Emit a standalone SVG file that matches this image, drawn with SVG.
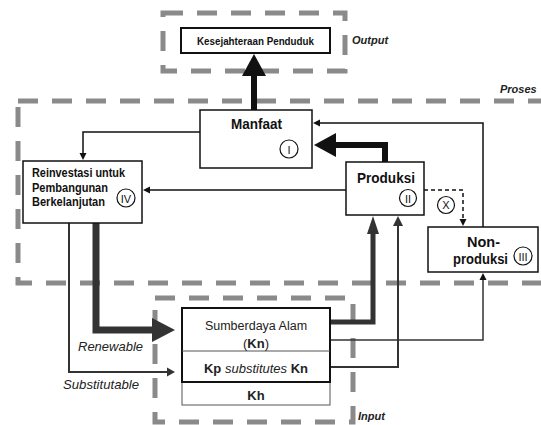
<svg xmlns="http://www.w3.org/2000/svg" width="541" height="425" viewBox="0 0 541 425">
<style>
.bg{fill:#fff}
.dash{fill:none;stroke:#8a8a8a;stroke-width:5;stroke-dasharray:20 14}
.box{fill:#fff;stroke:#111;stroke-width:1.5}
.lab{font-family:"Liberation Sans",Arial,sans-serif;font-weight:bold;fill:#111}
.reg{font-family:"Liberation Sans",Arial,sans-serif;fill:#222}
.it{font-family:"Liberation Sans",Arial,sans-serif;font-style:italic;fill:#222}
.circ{fill:#fff;stroke:#111;stroke-width:1.2}
.num{font-family:"Liberation Sans",Arial,sans-serif;font-size:11px;fill:#111;text-anchor:middle}
.thin{fill:none;stroke:#111;stroke-width:1.5}
</style>
<defs>
<marker id="aBig" markerUnits="userSpaceOnUse" markerWidth="24" markerHeight="26" viewBox="0 -13 24 26" refX="1" refY="0" orient="auto"><path d="M0,-12 L22,0 L0,12 z" fill="#111"/></marker>
<marker id="aBigG" markerUnits="userSpaceOnUse" markerWidth="26" markerHeight="28" viewBox="0 -14 26 28" refX="1" refY="0" orient="auto"><path d="M0,-12 L23,0 L0,12 z" fill="#333"/></marker>
<marker id="aMid" markerUnits="userSpaceOnUse" markerWidth="20" markerHeight="16" viewBox="0 -8 20 16" refX="1" refY="0" orient="auto"><path d="M0,-6 L18,0 L0,6 z" fill="#333"/></marker>
<marker id="aMed" markerUnits="userSpaceOnUse" markerWidth="12" markerHeight="12" viewBox="0 -6 12 12" refX="1" refY="0" orient="auto"><path d="M0,-5 L10,0 L0,5 z" fill="#333"/></marker>
<marker id="aSm" markerUnits="userSpaceOnUse" markerWidth="9" markerHeight="9" viewBox="0 -4.5 9 9" refX="1" refY="0" orient="auto"><path d="M0,-3.5 L7,0 L0,3.5 z" fill="#111"/></marker>
<marker id="aSub" markerUnits="userSpaceOnUse" markerWidth="10" markerHeight="12" viewBox="0 -6 10 12" refX="1" refY="0" orient="auto"><path d="M0,-4.5 L8,0 L0,4.5 z" fill="#333"/></marker>
</defs>
<rect class="bg" x="0" y="0" width="541" height="425"/>

<g id="zones">
<rect class="dash" x="163" y="13" width="182" height="58"/>
<rect class="dash" x="18" y="101" width="545" height="182"/>
<rect class="dash" x="155" y="298" width="198" height="124"/>
<text class="it" x="352" y="44" font-size="11" font-weight="bold">Output</text>
<text class="it" x="500" y="93" font-size="11" font-weight="bold">Proses</text>
<text class="it" x="358" y="420" font-size="11" font-weight="bold">Input</text>
</g>

<g id="connectors">
<path d="M254,110 V75" stroke="#111" stroke-width="6" fill="none" marker-end="url(#aBig)"/>
<path d="M385,162 V145 H335" stroke="#111" stroke-width="6" fill="none" stroke-linejoin="miter" marker-end="url(#aBig)"/>
<path d="M483,227 V123 H319" class="thin" marker-end="url(#aSm)"/>
<path d="M200,132 H83 V154" class="thin" marker-end="url(#aSm)"/>
<path d="M346,190 H149" class="thin" marker-end="url(#aSm)"/>
<path d="M424,190 H463 V220" fill="none" stroke="#111" stroke-width="1.5" stroke-dasharray="4 3" marker-end="url(#aSm)"/>
<path d="M96,223 V330 H153" stroke="#333" stroke-width="7" fill="none" marker-end="url(#aBigG)"/>
<path d="M69,223 V372 H168" stroke="#333" stroke-width="2" fill="none" marker-end="url(#aSub)"/>
<path d="M330,322 H373 V233" stroke="#333" stroke-width="5" fill="none" marker-end="url(#aMid)"/>
<path d="M330,340 H483 V279" stroke="#333" stroke-width="1.5" fill="none" marker-end="url(#aSm)"/>
<path d="M330,367 H398 V225" stroke="#333" stroke-width="2" fill="none" marker-end="url(#aMed)"/>
<text class="it" x="78" y="351" font-size="13" textLength="65" lengthAdjust="spacingAndGlyphs">Renewable</text>
<text class="it" x="63" y="389" font-size="13" textLength="76" lengthAdjust="spacingAndGlyphs">Substitutable</text>
</g>

<g id="kesejahteraan">
<rect x="181" y="28" width="149" height="25" fill="#fff" stroke="#111" stroke-width="2"/>
<text class="lab" x="197" y="44.5" font-size="11" textLength="117" lengthAdjust="spacingAndGlyphs">Kesejahteraan Penduduk</text>
</g>

<g id="manfaat">
<rect class="box" x="200" y="110" width="112" height="58"/>
<text class="lab" x="231" y="129" font-size="14" textLength="51" lengthAdjust="spacingAndGlyphs">Manfaat</text>
<circle class="circ" cx="289" cy="149" r="9"/>
<text class="num" x="289" y="153.5" font-size="12">I</text>
</g>

<g id="reinvestasi">
<rect class="box" x="23" y="161" width="119" height="62"/>
<text class="lab" x="32" y="177" font-size="13" textLength="93" lengthAdjust="spacingAndGlyphs">Reinvestasi untuk</text>
<text class="lab" x="32" y="192" font-size="13" textLength="76" lengthAdjust="spacingAndGlyphs">Pembangunan</text>
<text class="lab" x="32" y="206" font-size="13" textLength="73" lengthAdjust="spacingAndGlyphs">Berkelanjutan</text>
<circle class="circ" cx="126" cy="198" r="9"/>
<text class="num" x="126" y="202.5" font-size="12">IV</text>
</g>

<g id="produksi">
<rect class="box" x="346" y="162" width="78" height="53"/>
<text class="lab" x="357" y="183" font-size="14" textLength="58" lengthAdjust="spacingAndGlyphs">Produksi</text>
<circle class="circ" cx="408" cy="198" r="8.5"/>
<text class="num" x="408" y="202.5" font-size="12">II</text>
<circle class="circ" cx="446" cy="205" r="8.5"/>
<text class="num" x="446" y="209" font-size="10">X</text>
</g>

<g id="nonproduksi">
<rect class="box" x="428" y="227" width="110" height="45"/>
<text class="lab" x="467" y="247" font-size="14" textLength="33" lengthAdjust="spacingAndGlyphs">Non-</text>
<text class="lab" x="453" y="264" font-size="14" textLength="55" lengthAdjust="spacingAndGlyphs">produksi</text>
<circle class="circ" cx="523" cy="256" r="9"/>
<text class="num" x="523" y="260.5" font-size="12">III</text>
</g>

<g id="sumberdaya">
<rect x="182" y="382" width="148" height="23" fill="#fff" stroke="#555" stroke-width="1"/>
<rect x="182" y="308" width="148" height="74" fill="#fff" stroke="#111" stroke-width="2"/>
<line x1="182" y1="351" x2="330" y2="351" stroke="#555" stroke-width="1"/>
<text class="reg" x="256" y="330" font-size="12.5" text-anchor="middle" fill="#444">Sumberdaya Alam</text>
<text class="reg" x="256" y="348" font-size="13" text-anchor="middle">(<tspan font-weight="bold">Kn</tspan>)</text>
<text class="reg" x="256" y="373" font-size="13" text-anchor="middle"><tspan font-weight="bold">Kp</tspan> <tspan font-style="italic">substitutes</tspan> <tspan font-weight="bold">Kn</tspan></text>
<text class="reg" x="256" y="400" font-size="13" text-anchor="middle" font-weight="bold">Kh</text>
</g>
</svg>
